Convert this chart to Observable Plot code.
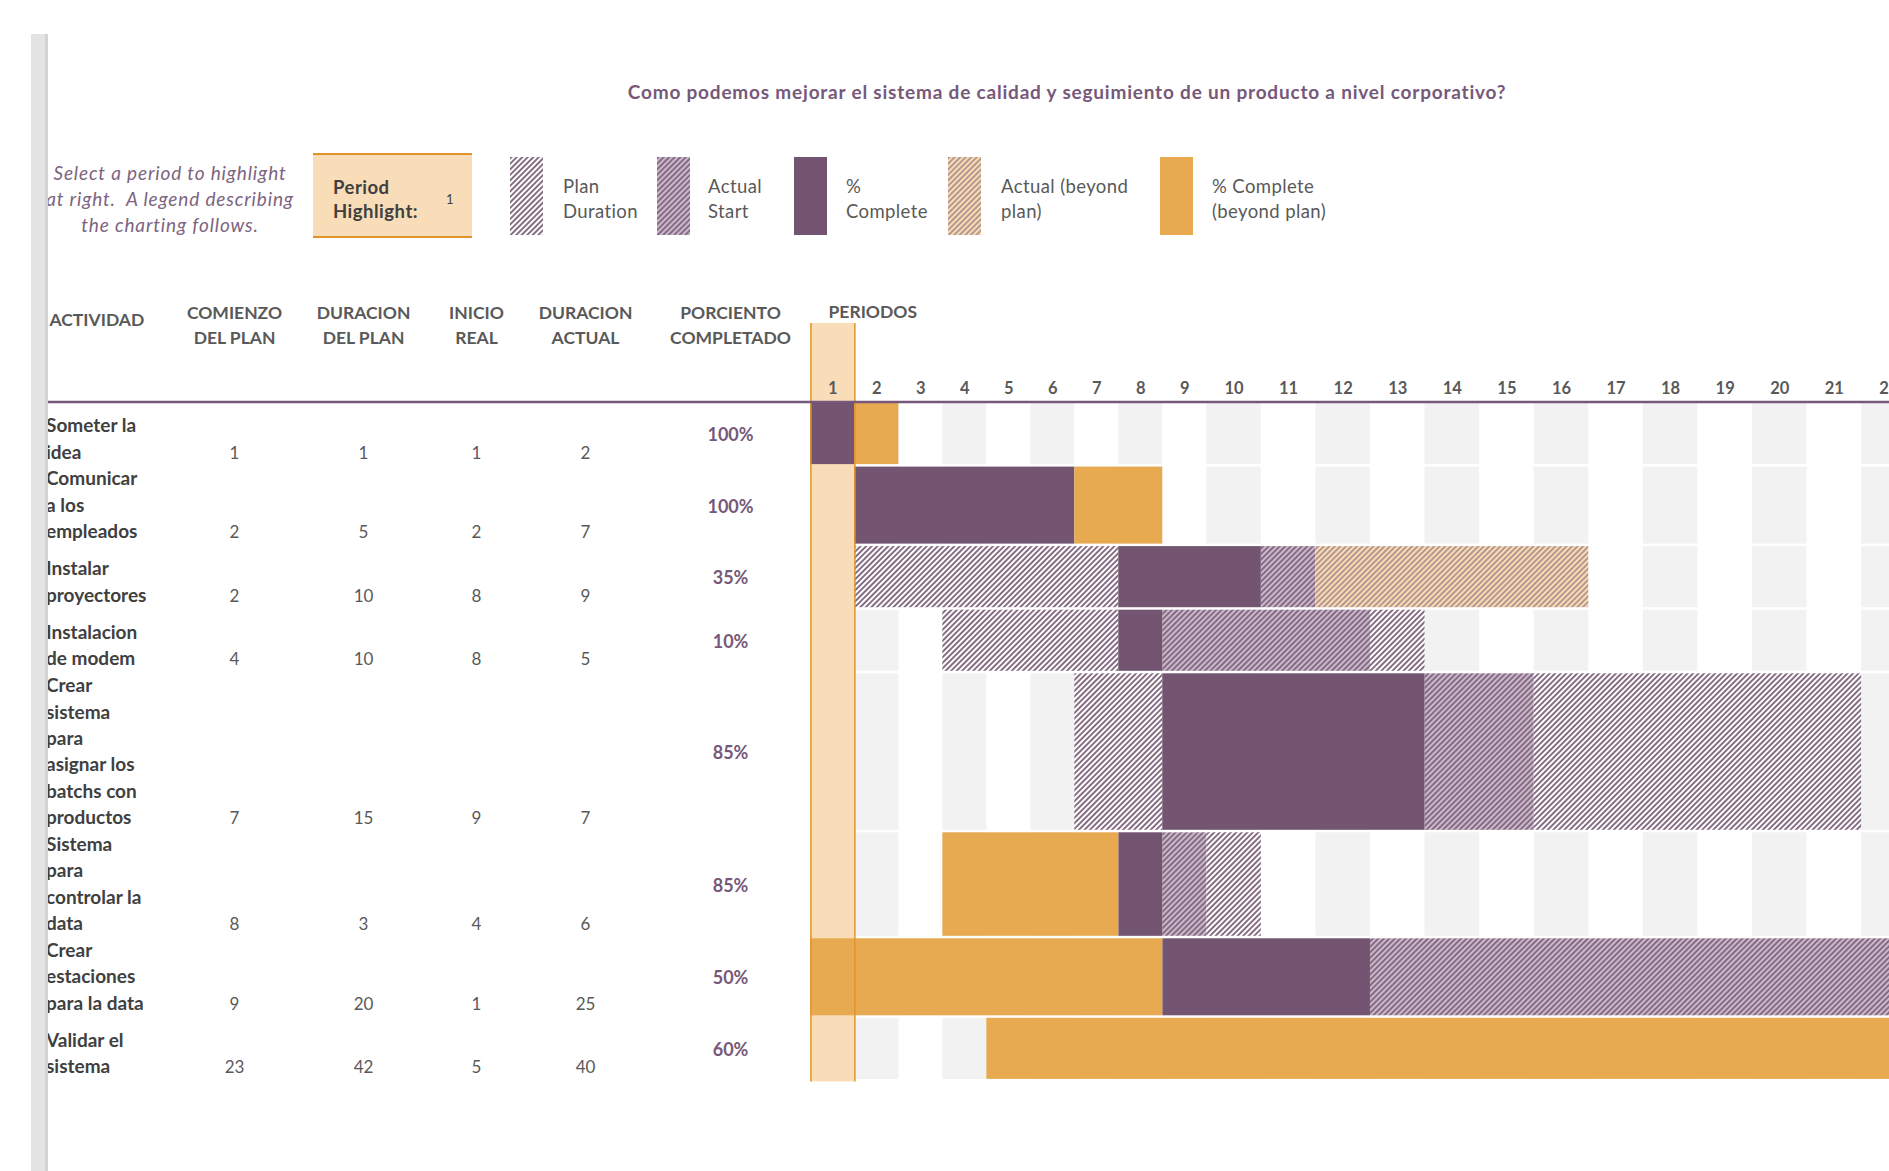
<!DOCTYPE html>
<html><head><meta charset="utf-8">
<script src="https://cdn.jsdelivr.net/npm/d3@7"></script>
<script src="https://cdn.jsdelivr.net/npm/@observablehq/plot@0.6"></script>
<style>
html,body{margin:0;padding:0;background:#fff;}
body{width:1889px;height:1171px;overflow:hidden;position:relative;font-family:Lato,"Open Sans",sans-serif;}
#header{position:relative;width:1889px;height:280px;}
#chart{position:relative;width:1889px;height:891px;overflow:hidden;}
#chart > *{position:absolute;top:0;}
.abs{position:absolute;white-space:pre;}
#greybar{position:absolute;left:31px;top:34px;width:14px;height:1137px;background:#e3e3e3;border-right:3px solid #d3d3d3;z-index:10;}
</style></head><body>
<svg width="0" height="0" style="position:absolute">
  <defs>
    <pattern id="pat-plan" patternUnits="userSpaceOnUse" width="3.9" height="3.9" patternTransform="rotate(45)">
      <rect width="3.9" height="3.9" fill="#ffffff"/>
      <line x1="1" y1="0" x2="1" y2="3.9" stroke="#654763" stroke-width="1.55"/>
    </pattern>
    <pattern id="pat-actual" patternUnits="userSpaceOnUse" width="3.9" height="3.9" patternTransform="rotate(45)">
      <rect width="3.9" height="3.9" fill="#cbb8ca"/>
      <line x1="1" y1="0" x2="1" y2="3.9" stroke="#6a4c68" stroke-width="1.4"/>
    </pattern>
    <pattern id="pat-beyond" patternUnits="userSpaceOnUse" width="3.9" height="3.9" patternTransform="rotate(45)">
      <rect width="3.9" height="3.9" fill="#f8ddb3"/>
      <line x1="1" y1="0" x2="1" y2="3.9" stroke="#7a5a78" stroke-width="1.05"/>
    </pattern>
  </defs>
</svg>
<div id="header"></div>
<div id="chart"></div>
<div id="greybar"></div>
<script>
// ---------- DATA ----------
const titulo = "Como podemos mejorar el sistema de calidad y seguimiento de un producto a nivel corporativo?";
const actividades = [
  "Someter la\nidea",
  "Comunicar\na los\nempleados",
  "Instalar\nproyectores",
  "Instalacion\nde modem",
  "Crear\nsistema\npara\nasignar los\nbatchs con\nproductos",
  "Sistema\npara\ncontrolar la\ndata",
  "Crear\nestaciones\npara la data",
  "Validar el\nsistema"
];
const comienzoPlan = [1, 2, 2, 4, 7, 8, 9, 23];
const duracionPlan = [1, 5, 10, 10, 15, 3, 20, 42];
const inicioReal = [1, 2, 8, 8, 9, 4, 1, 5];
const duracionActual = [2, 7, 9, 5, 7, 6, 25, 40];
const porcientoCompletado = [1.00, 1.00, 0.35, 0.10, 0.85, 0.85, 0.50, 0.60];
const periodosCompletados = [2, 7, 3, 1, 5, 5, 12, 24];
const periodos = [1, 2, 3, 4, 5, 6, 7, 8, 9, 10, 11, 12, 13, 14, 15, 16, 17, 18, 19, 20, 21, 22];
const periodoResaltado = 1;
const columnas = ["ACTIVIDAD", "COMIENZO\nDEL PLAN", "DURACION\nDEL PLAN", "INICIO\nREAL", "DURACION\nACTUAL", "PORCIENTO\nCOMPLETADO"];
const leyendaClaves = ["plan", "actual", "complete", "beyond", "completeBeyond"];
const leyendaTextos = ["Plan\nDuration", "Actual\nStart", "%\nComplete", "Actual (beyond\nplan)", "% Complete\n(beyond plan)"];
const textoAyuda = "Select a period to highlight\nat right.  A legend describing\nthe charting follows.";
const textoResaltado = "Period\nHighlight:";

// ---------- STYLE ----------
const PURPLE = "#735571", ORANGE = "#e8aa50", PEACH = "#f8ddb8", BORDER = "#e0942b";
const fills = {plan: "url(#pat-plan)", actual: "url(#pat-actual)", beyond: "url(#pat-beyond)", complete: PURPLE, completeBeyond: ORANGE};
const LINE = 26.5; // px per text line in a row
const TOP = 123;    // px where rows begin inside the chart svg
const FONT = "Lato, 'Open Sans', sans-serif";

// ---------- HEADER (title + legend) ----------
const header = document.getElementById("header");
function addText(txt, o) {
  const d = document.createElement("div");
  d.className = "abs";
  d.textContent = txt;
  const lh = o.lh || 25;
  d.style.top = (o.y - lh / 2) + "px";
  d.style.lineHeight = lh + "px";
  d.style.fontSize = (o.size || 17) + "px";
  d.style.fontWeight = o.weight || "normal";
  d.style.fontStyle = o.style || "normal";
  d.style.letterSpacing = (o.ls || 0) + "px";
  d.style.color = o.color || "#595959";
  d.style.left = o.x + "px";
  if (o.anchor === "middle") { d.style.transform = "translateX(-50%)"; d.style.textAlign = "center"; }
  header.appendChild(d);
  return d;
}
addText(titulo, {x: 1067, y: 91, anchor: "middle", size: 19, ls: 0.8, weight: "bold", color: "#76587a"});
addText(textoAyuda, {x: 170, y: 173, anchor: "middle", size: 19, ls: 0.85, style: "italic", color: "#7d6480", lh: 26});
const box = document.createElement("div");
Object.assign(box.style, {position: "absolute", left: "313px", top: "153px", width: "159px", height: "81px",
  background: PEACH, borderTop: "2px solid " + BORDER, borderBottom: "2px solid " + BORDER});
header.appendChild(box);
addText(textoResaltado, {x: 333, y: 187, size: 18.5, ls: 0.5, weight: "bold", color: "#404040", lh: 24});
addText(String(periodoResaltado), {x: 446, y: 199, size: 13, color: "#404040"});
const swatchX = [510, 657, 794, 948, 1160];
const textX = [563, 708, 846, 1001, 1212];
leyendaClaves.forEach((k, i) => {
  const ns = "http://www.w3.org/2000/svg";
  const s = document.createElementNS(ns, "svg");
  s.setAttribute("width", 33); s.setAttribute("height", 78);
  Object.assign(s.style, {position: "absolute", left: swatchX[i] + "px", top: "157px"});
  const r = document.createElementNS(ns, "rect");
  r.setAttribute("width", 33); r.setAttribute("height", 78); r.setAttribute("fill", fills[k]);
  s.appendChild(r);
  header.appendChild(s);
  addText(leyendaTextos[i], {x: textX[i], y: 186, size: 18.5, ls: 0.4, color: "#595959", lh: 25});
});

// ---------- ROWS ----------
let acc = 0;
const filas = actividades.map((a, i) => {
  const n = a.split("\n").length;
  const h = Math.max(n, 2.4);
  const f = {i, actividad: a, top: acc, bottom: acc + h,
    cp: comienzoPlan[i], dp: duracionPlan[i], ir: inicioReal[i], da: duracionActual[i],
    pct: porcientoCompletado[i], pc: periodosCompletados[i]};
  acc += h;
  return f;
});
const total = acc;
const yOpt = {domain: [0, total], range: [TOP, TOP + total * LINE], axis: null};

// cell states -> merged segments
const segmentos = [];
filas.forEach(f => {
  let cur = null;
  periodos.forEach(p => {
    const inPlan = p >= f.cp && p < f.cp + f.dp;
    const inActual = p >= f.ir && p < f.ir + f.da;
    const inComplete = p >= f.ir && p < f.ir + f.pc;
    let k = null;
    if (inComplete) k = inPlan ? "complete" : "completeBeyond";
    else if (inActual) k = inPlan ? "actual" : "beyond";
    else if (inPlan) k = "plan";
    if (k && cur && cur.kind === k && cur.x2 === p) cur.x2 = p + 1;
    else if (k) { cur = {fila: f, kind: k, x1: p, x2: p + 1}; segmentos.push(cur); }
    else cur = null;
  });
});
const fondo = [];
filas.forEach(f => periodos.forEach(p => { if (p % 2 === 0 && p !== periodoResaltado) fondo.push({fila: f, p}); }));

// ---------- TABLE PLOT ----------
const tablaCeldas = [];
filas.forEach(f => {
  [comienzoPlan, duracionPlan, inicioReal, duracionActual].forEach((arr, c) => tablaCeldas.push({fila: f, col: c + 1, v: arr[f.i]}));
});
const tabla = Plot.plot({
  width: 800, height: 891,
  marginLeft: 38, marginRight: 0, marginTop: TOP, marginBottom: 0,
  x: {type: "linear", domain: [0, 1, 2, 3, 4, 5], range: [49, 234, 363, 476, 585, 730], axis: null},
  y: yOpt,
  style: {fontFamily: FONT, background: "transparent"},
  marks: [
    Plot.ruleY([0], {stroke: "#76587a", strokeWidth: 2.5, dy: -1.5}),
    Plot.text(columnas.slice(0, 1), {x: () => 0, y: () => 0, text: d => d, dy: -83, textAnchor: "start", fontSize: 17.5, fontWeight: "bold", fill: "#595959", ariaLabel: "cabecera"}),
    Plot.text(columnas.slice(1), {x: (d, i) => i + 1, y: () => 0, text: d => d, dy: -80.5, lineHeight: 1.43, fontSize: 17.5, fontWeight: "bold", fill: "#595959", ariaLabel: "cabecera"}),
    Plot.text(filas, {x: () => 0, y: f => f.bottom, text: f => f.actividad, dx: -3.5, dy: -8.5, textAnchor: "start", lineAnchor: "bottom", lineHeight: 1.39, fontSize: 19, fontWeight: "bold", fill: "#404040", ariaLabel: "actividad"}),
    Plot.text(tablaCeldas, {x: "col", y: d => d.fila.bottom, text: d => String(d.v), dy: -8.5, lineAnchor: "bottom", fontSize: 17, fill: "#595959", ariaLabel: "valor"}),
    Plot.text(filas, {x: () => 5, y: f => (f.top + f.bottom) / 2, text: f => Math.round(f.pct * 100) + "%", fontSize: 18, fontWeight: "bold", fill: "#76587a", ariaLabel: "porciento"})
  ]
});
d3.select(tabla).selectAll('g[aria-label="cabecera"]').attr("letter-spacing", 0.4);
d3.select(tabla).selectAll('g[aria-label="actividad"]').attr("letter-spacing", 0.5);
d3.select(tabla).selectAll('g[aria-label="porciento"]').attr("letter-spacing", 0.3);

// ---------- GANTT PLOT ----------
const gantt = Plot.plot({
  width: 1089, height: 891,
  marginLeft: 0, marginRight: 0, marginTop: TOP, marginBottom: 0,
  x: {type: "linear", domain: [1, 10, 22], range: [10.4, 406.25, 1061.1], axis: null},
  y: yOpt,
  style: {fontFamily: FONT, background: "transparent"},
  marks: [
    Plot.rect([periodoResaltado], {x1: p => p, x2: p => p + 1, y1: () => 0, y2: () => total, insetTop: -80, fill: PEACH}),
    Plot.rect(fondo, {x1: d => d.p, x2: d => d.p + 1, y1: d => d.fila.top, y2: d => d.fila.bottom, insetBottom: 2.5, fill: "#f2f2f2"}),
    ...leyendaClaves.map(k => Plot.rect(segmentos.filter(s => s.kind === k), {
      x1: "x1", x2: "x2", y1: s => s.fila.top, y2: s => s.fila.bottom, insetBottom: 2.5, fill: fills[k]})),
    Plot.ruleX([periodoResaltado, periodoResaltado + 1], {y1: () => 0, y2: () => total, insetTop: -80, stroke: BORDER, strokeWidth: 1.5}),
    Plot.ruleY([0], {stroke: "#76587a", strokeWidth: 2.5, dy: -1.5}),
    Plot.text(periodos, {x: p => p + 0.5, y: () => 0, text: p => String(p), dy: -15, fontSize: 16.5, fontWeight: "bold", fill: "#595959"}),
    Plot.text(["PERIODOS"], {x: () => 1, y: () => 0, text: d => d, dx: 17.6, dy: -91, textAnchor: "start", fontSize: 17.5, fontWeight: "bold", fill: "#595959", ariaLabel: "periodos-titulo"})
  ]
});
d3.select(gantt).selectAll('g[aria-label="periodos-titulo"]').attr("letter-spacing", 0.4);

const chart = document.getElementById("chart");
tabla.style.left = "0px";
gantt.style.left = "800px";
chart.appendChild(tabla);
chart.appendChild(gantt);
</script>
</body></html>
